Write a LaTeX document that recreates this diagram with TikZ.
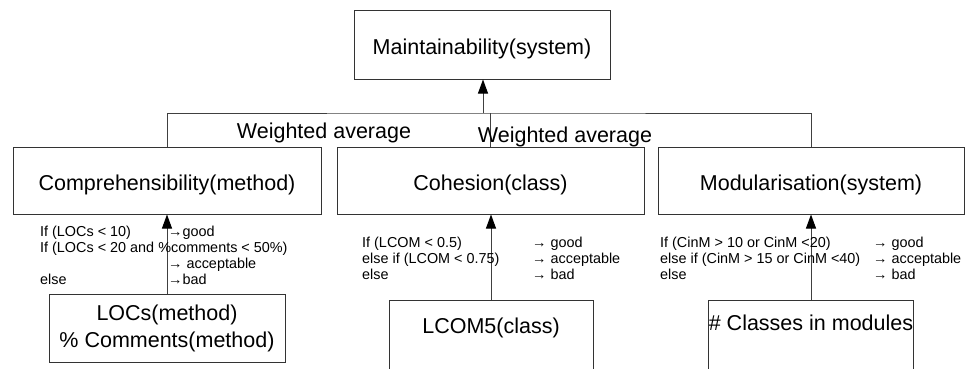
\documentclass[tikz,border=0pt]{standalone}
\usepackage{fontspec}
\setmainfont{Liberation Sans}
\usetikzlibrary{arrows.meta}
% left-aligned block whose baseline is that of its first row
\newcommand\ruletab[1]{\begin{tabular}[t]{@{}l@{}}#1\end{tabular}}
\begin{document}
\begin{tikzpicture}[x=1pt,y=-1pt,
  box/.style={draw=black!80, line width=1pt, rectangle, inner sep=0pt,
    font=\fontsize{21.5}{27}\selectfont, text=black},
  midbox/.style={box, minimum height=67pt, text height=19pt, text depth=0pt},
  wire/.style={draw=black!75, line width=1pt},
  feed/.style={wire, -{Triangle[length=14pt,width=10pt,color=black]}},
  rule/.style={font=\fontsize{14.4}{16}\selectfont, inner sep=0pt, anchor=base west},
  caption/.style={font=\fontsize{21.5}{26}\selectfont, inner sep=0pt, anchor=base}
]
\useasboundingbox (0,0) rectangle (966,368);
\clip (0,0) rectangle (966,368);

% quality model boxes
\node[box, minimum width=256pt, minimum height=69pt, text height=19pt, text depth=0pt]
  (top) at (482,44.5) {Maintainability(system)};
\node[midbox, minimum width=308pt] (comp) at (167,180.5) {Comprehensibility(method)};
\node[midbox, minimum width=307pt] (coh)  at (490.5,180.5) {Cohesion(class)};
\node[midbox, minimum width=306pt] (modu) at (811,180.5) {Modularisation(system)};

% metric boxes
\node[box, minimum width=236pt, minimum height=68pt, align=center]
  (locs) at (167,328) {LOCs(method)\\\% Comments(method)};
\node[box, anchor=north, minimum width=204pt, text height=33pt, text depth=80pt]
  (lcom) at (491,300) {LCOM5(class)};
\node[box, anchor=north, minimum width=204pt, text height=30pt, text depth=80pt]
  (cls) at (811,300) {\# Classes in modules};

% aggregation bus
\coordinate (bus) at (483,113);
\draw[wire] (comp.north) |- (bus) -| (modu.north);
\draw[wire] (coh.north) -- (coh.north |- bus);
\draw[feed] (bus) -- (bus |- top.south);

\node[caption] (wa1) at (324,138) {Weighted average};
\node[caption] (wa2) at (565,142) {Weighted average};

% metric to characteristic
\draw[feed] (locs.north) -- (comp.south);
\draw[feed] (lcom.north) -- (lcom.north |- coh.south);
\draw[feed] (cls.north) -- (modu.south);

% thresholds
\node[rule] (compif) at (40,236)
  {\ruletab{If (LOCs < 10)\\If (LOCs < 20 and \%comments < 50\%)\\ \\else}};
\node[rule] (compthen) at (168,236)
  {\ruletab{→good\\ \\→ acceptable\\→bad}};

\node[rule] (cohif) at (362,247)
  {\ruletab{If (LCOM < 0.5)\\else if (LCOM < 0.75)\\else}};
\node[rule] (cohthen) at (532,247)
  {\ruletab{→ good\\→ acceptable\\→ bad}};

\node[rule] (modif) at (660,247)
  {\ruletab{If (CinM > 10 or CinM <20)\\else if (CinM > 15 or CinM <40)\\else}};
\node[rule] (modthen) at (873,247)
  {\ruletab{→ good\\→ acceptable\\→ bad}};
\end{tikzpicture}
\end{document}
